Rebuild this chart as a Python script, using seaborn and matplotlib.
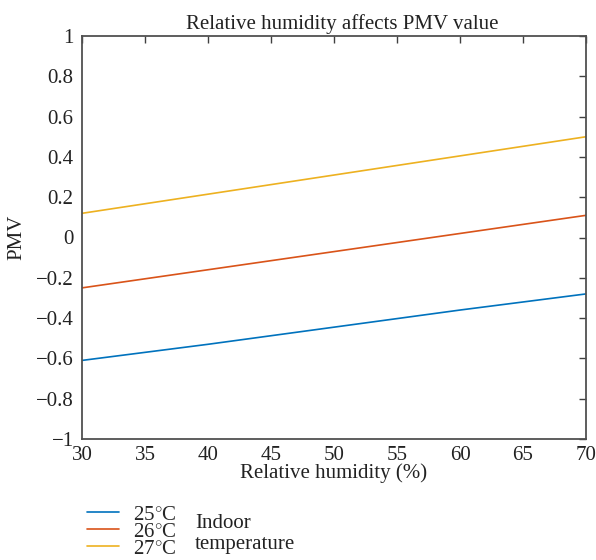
import numpy as np
import pandas as pd
import matplotlib
matplotlib.use("Agg")
import matplotlib.pyplot as plt
import seaborn as sns

humidity = [30, 40, 50, 60, 70]
pmv_25 = [-0.61, -0.53, -0.445, -0.36, -0.28]
pmv_26 = [-0.25, -0.16, -0.07, 0.02, 0.11]
pmv_27 = [0.12, 0.215, 0.31, 0.405, 0.50]
series_labels = ["25$^{\\circ}$C", "26$^{\\circ}$C", "27$^{\\circ}$C"]
colors = ["#0072BD", "#D95319", "#EDB120"]
x_ticks = [30, 35, 40, 45, 50, 55, 60, 65, 70]
y_ticks = [-1, -0.8, -0.6, -0.4, -0.2, 0, 0.2, 0.4, 0.6, 0.8, 1]
y_ticklabels = ["\u22121", "\u22120.8", "\u22120.6", "\u22120.4", "\u22120.2", "0",
                "0.2", "0.4", "0.6", "0.8", "1"]

sns.set_theme(style="white")
plt.rcParams["font.family"] = ["Liberation Serif", "DejaVu Serif"]
plt.rcParams["mathtext.fontset"] = "custom"
plt.rcParams["mathtext.rm"] = "Liberation Serif"
plt.rcParams["mathtext.it"] = "Liberation Serif:italic"

df = pd.DataFrame({
    "humidity": humidity * 3,
    "pmv": pmv_25 + pmv_26 + pmv_27,
    "temp": [series_labels[0]] * 5 + [series_labels[1]] * 5 + [series_labels[2]] * 5,
})

FS = 15
TXT = "#222222"

fig = plt.figure(figsize=(5.96, 5.6), dpi=100)
ax = fig.add_axes([82 / 596, 1 - 439 / 560, (586 - 82) / 596, (439 - 36) / 560])
sns.lineplot(data=df, x="humidity", y="pmv", hue="temp", palette=colors,
             linewidth=1.2, ax=ax, legend=True)

ax.set_xlim(30, 70)
ax.set_ylim(-1, 1)
ax.set_xticks(x_ticks)
ax.set_xticklabels([str(t) for t in x_ticks])
ax.set_yticks(y_ticks)
ax.set_yticklabels(y_ticklabels)
ax.tick_params(direction="in", length=5, width=1, colors="#404040",
               labelcolor=TXT, labelsize=FS, top=True, right=True)
ax.tick_params(axis="y", pad=6)
ax.tick_params(axis="x", pad=5)
for s in ax.spines.values():
    s.set_color("#505050")
    s.set_linewidth(1.3)
    s.set_visible(True)
ax.set_xlabel("Relative humidity (%)", fontsize=FS, color=TXT, labelpad=-1)
ax.set_ylabel("PMV", fontsize=FS, color=TXT, labelpad=7)
ax.set_title("Relative humidity affects PMV value", fontsize=FS, color=TXT,
             pad=5, x=0.516)

handles, labels = ax.get_legend_handles_labels()
ax.legend(handles, labels, loc="upper left",
          bbox_to_anchor=(87 / 596, 1 - 505 / 560), bbox_transform=fig.transFigure,
          frameon=False, fontsize=FS, handlelength=1.55, handletextpad=0.65,
          labelspacing=-0.12, borderpad=0, borderaxespad=0)
fig.text(195 / 596, 1 - 534 / 560, "Indoor\ntemperature", fontsize=FS,
         color=TXT, va="center", ha="left", linespacing=1.1)

fig.savefig("out.png", dpi=100)
